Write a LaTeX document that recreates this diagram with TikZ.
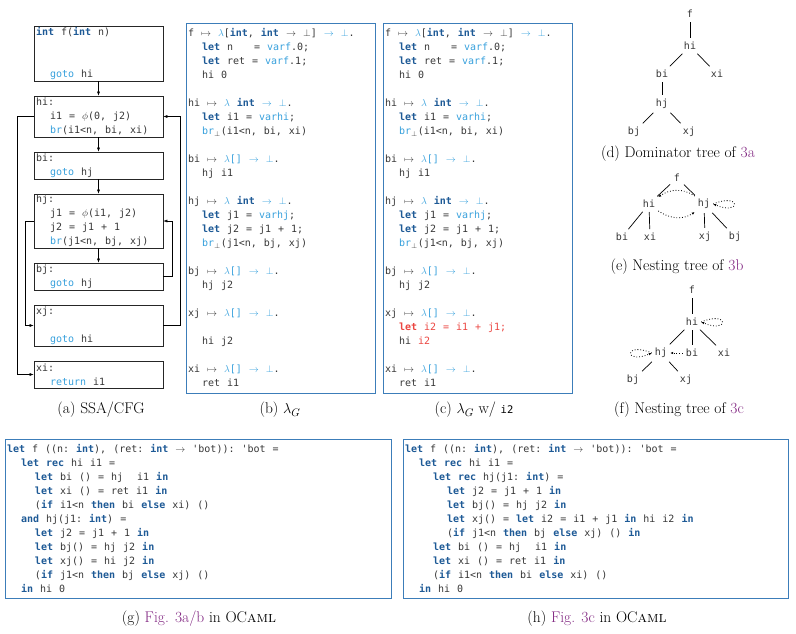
\documentclass[tikz,border=0pt]{standalone}
\usepackage{fontspec}
\newfontfamily\codefont{DejaVu Sans Mono}
\usetikzlibrary{arrows.meta}

\definecolor{kwblue}{RGB}{30,90,150}
\definecolor{ltblue}{RGB}{55,160,220}
\definecolor{frameblue}{RGB}{60,125,185}
\definecolor{codered}{RGB}{235,70,65}
\definecolor{refpurple}{RGB}{130,40,130}
\definecolor{codegray}{RGB}{55,55,55}

\newcommand\kw[1]{{\bfseries\color{kwblue}#1}}
\newcommand\lb[1]{{\color{ltblue}#1}}
\newcommand\rd[1]{{\color{codered}#1}}
\newcommand\pur[1]{{\color{refpurple}#1}}
\newcommand\ocaml{OC\textsc{aml}}
\newcommand\lamty{\lb{$\lambda$[] $\rightarrow$ $\bot$}.}
\newcommand\codesize{\codefont\fontsize{10}{14}\selectfont}
\newcommand\codespaces{\spaceskip=7pt\relax\xspaceskip=7pt\relax}

\tikzset{
  code/.style={font=\codesize, text=codegray, execute at begin node=\codespaces},
  cfgblock/.style={code, draw=black!85, line width=0.8pt, text width=125pt, align=flush left, inner xsep=2pt, inner ysep=0pt},
  listing/.style={code, draw=frameblue, line width=0.8pt, align=flush left, inner xsep=2pt, inner ysep=0pt},
  treenode/.style={code, inner sep=3pt},
  treeedge/.style={line width=0.7pt, shorten >=1pt, shorten <=1pt},
  nestedge/.style={dotted, line width=0.8pt, -{Latex[length=3pt,width=2.5pt]}},
  caption/.style={font=\fontsize{15.5}{17}\selectfont},
}

\begin{document}
\begin{tikzpicture}[x=1pt,y=-1pt,>={Latex[length=4pt,width=3pt]}]
\useasboundingbox (0,0) rectangle (796,633);

% (a) SSA/CFG
\node[cfgblock,minimum height=55pt] (f) at (98.5,53.5) {\kw{int} f(\kw{int} n)\\[28pt]~~\lb{goto} hi};
\node[cfgblock,minimum height=41pt] (hi) at (98.5,116.5) {hi:\\~~i1 = $\phi$(0, j2)\\~~\lb{br}(i1<n, bi, xi)};
\node[cfgblock,minimum height=27pt] (bi) at (98.5,165.5) {bi:\\~~\lb{goto} hj};
\node[cfgblock,minimum height=54pt] (hj) at (98.5,221) {hj:\\~~j1 = $\phi$(i1, j2)\\~~j2 = j1 + 1\\~~\lb{br}(j1<n, bj, xj)};
\node[cfgblock,minimum height=27pt] (bj) at (98.5,276.5) {bj:\\~~\lb{goto} hj};
\node[cfgblock,minimum height=41pt] (xj) at (98.5,325.5) {xj:\\[14pt]~~\lb{goto} hi};
\node[cfgblock,minimum height=27pt] (xi) at (98.5,374.5) {xi:\\~~\lb{return} i1};
\draw[->] (f) -- (hi);
\draw[->] (hi) -- (bi);
\draw[->] (bi) -- (hj);
\draw[->] (hj) -- (bj);
\draw[->] (hi.west) -- ++(-16,0) |- (xi.west);
\draw[->] (hj.west) -- ++(-8,0) |- (xj.west);
\draw[->] (bj.east) -- ++(9,0) |- (hj.east);
\draw[->] (xj.east) -- ++(17,0) |- (hi.east);
\node[caption] (capa) at (101,410) {(a) SSA/CFG};

% (b) lambda_G
\node[listing,text width=185pt,minimum height=370pt] (lamg) at (280.5,208) {%
f $\mapsto$ \lb{$\lambda$}[\kw{int}, \kw{int} $\rightarrow$ $\bot$] \lb{$\rightarrow$ $\bot$}.\\
~~\kw{let} n~~~= \lb{varf}.0;\\
~~\kw{let} ret = \lb{varf}.1;\\
~~hi 0\\[14pt]
hi $\mapsto$ \lb{$\lambda$} \kw{int} \lb{$\rightarrow$ $\bot$}.\\
~~\kw{let} i1 = \lb{varhi};\\
~~\lb{br}$_\bot$(i1<n, bi, xi)\\[14pt]
bi $\mapsto$ \lamty\\
~~hj i1\\[14pt]
hj $\mapsto$ \lb{$\lambda$} \kw{int} \lb{$\rightarrow$ $\bot$}.\\
~~\kw{let} j1 = \lb{varhj};\\
~~\kw{let} j2 = j1 + 1;\\
~~\lb{br}$_\bot$(j1<n, bj, xj)\\[14pt]
bj $\mapsto$ \lamty\\
~~hj j2\\[14pt]
xj $\mapsto$ \lamty\\[14pt]
~~hi j2\\[14pt]
xi $\mapsto$ \lamty\\
~~ret i1};
\node[caption] (capb) at (280,410) {(b) $\lambda_G$};

% (c) lambda_G with i2
\node[listing,text width=185pt,minimum height=370pt] (lamgi) at (477.5,208) {%
f $\mapsto$ \lb{$\lambda$}[\kw{int}, \kw{int} $\rightarrow$ $\bot$] \lb{$\rightarrow$ $\bot$}.\\
~~\kw{let} n~~~= \lb{varf}.0;\\
~~\kw{let} ret = \lb{varf}.1;\\
~~hi 0\\[14pt]
hi $\mapsto$ \lb{$\lambda$} \kw{int} \lb{$\rightarrow$ $\bot$}.\\
~~\kw{let} i1 = \lb{varhi};\\
~~\lb{br}$_\bot$(i1<n, bi, xi)\\[14pt]
bi $\mapsto$ \lamty\\
~~hj i1\\[14pt]
hj $\mapsto$ \lb{$\lambda$} \kw{int} \lb{$\rightarrow$ $\bot$}.\\
~~\kw{let} j1 = \lb{varhj};\\
~~\kw{let} j2 = j1 + 1;\\
~~\lb{br}$_\bot$(j1<n, bj, xj)\\[14pt]
bj $\mapsto$ \lamty\\
~~hj j2\\[14pt]
xj $\mapsto$ \lamty\\
~~\rd{\bfseries let} \rd{i2 = i1 + j1;}\\
~~hi \rd{i2}\\[14pt]
xi $\mapsto$ \lamty\\
~~ret i1};
\node[caption] (capc) at (474,410) {(c) $\lambda_G$ w/ {\codefont\fontsize{10.5}{12}\selectfont i2}};

% (d) dominator tree
\node[treenode] (d-f) at (690,14) {f};
\node[treenode] (d-hi) at (690,46) {hi};
\node[treenode] (d-bi) at (662,74) {bi};
\node[treenode] (d-xi) at (717,74) {xi};
\node[treenode] (d-hj) at (662,104) {hj};
\node[treenode] (d-bj) at (634,132) {bj};
\node[treenode] (d-xj) at (689,132) {xj};
\draw[treeedge] (d-f) -- (d-hi);
\draw[treeedge] (d-hi) -- (d-bi);
\draw[treeedge] (d-hi) -- (d-xi);
\draw[treeedge] (d-bi) -- (d-hj);
\draw[treeedge] (d-hj) -- (d-bj);
\draw[treeedge] (d-hj) -- (d-xj);
\node[caption] (capd) at (678,154) {(d) Dominator tree of \pur{3a}};

% (e) nesting tree of 3b
\node[treenode] (e-f) at (677,178) {f};
\node[treenode] (e-hi) at (649,204) {hi};
\node[treenode] (e-hj) at (704,204) {hj};
\node[treenode] (e-bi) at (622,237) {bi};
\node[treenode] (e-xi) at (650,237) {xi};
\node[treenode] (e-xj) at (705,237) {xj};
\node[treenode] (e-bj) at (735,237) {bj};
\draw[treeedge] (e-f) -- (e-hi);
\draw[treeedge] (e-f) -- (e-hj);
\draw[treeedge] (e-hi) -- (e-bi);
\draw[treeedge] (e-hi) -- (e-xi);
\draw[treeedge] (e-hj) -- (e-xj);
\draw[treeedge] (e-hj) -- (e-bj);
\draw[nestedge] (e-hj.north west) .. controls +(-12,-8) and +(12,-8) .. (e-hi.north east);
\draw[nestedge] (e-hi.south east) .. controls +(12,8) and +(-12,8) .. (e-hj.south west);
\draw[nestedge] (e-hj.east) .. controls +(28,-12) and +(28,12) .. (e-hj.east);
\node[caption] (cape) at (677,267) {(e) Nesting tree of \pur{3b}};

% (f) nesting tree of 3c
\node[treenode] (g-f) at (692,290) {f};
\node[treenode] (g-hi) at (692,322) {hi};
\node[treenode] (g-hj) at (661,353) {hj};
\node[treenode] (g-bi) at (692,353) {bi};
\node[treenode] (g-xi) at (724,353) {xi};
\node[treenode] (g-bj) at (633,380) {bj};
\node[treenode] (g-xj) at (686,380) {xj};
\draw[treeedge] (g-f) -- (g-hi);
\draw[treeedge] (g-hi) -- (g-hj);
\draw[treeedge] (g-hi) -- (g-bi);
\draw[treeedge] (g-hi) -- (g-xi);
\draw[treeedge] (g-hj) -- (g-bj);
\draw[treeedge] (g-hj) -- (g-xj);
\draw[nestedge] (g-bi) -- (g-hj);
\draw[nestedge] (g-hi.east) .. controls +(28,-12) and +(28,12) .. (g-hi.east);
\draw[nestedge] (g-hj.west) .. controls +(-28,-12) and +(-28,12) .. (g-hj.west);
\node[caption] (capf) at (679,410) {(f) Nesting tree of \pur{3c}};

% (g) OCaml of 3a/b
\node[listing,text width=382pt,minimum height=159pt] (mlab) at (198,518.5) {%
\kw{let} f ((n: \kw{int}), (ret: \kw{int} $\rightarrow$ 'bot)): 'bot =\\
~~\kw{let} \kw{rec} hi i1 =\\
~~~~\kw{let} bi () = hj~~i1 \kw{in}\\
~~~~\kw{let} xi () = ret i1 \kw{in}\\
~~~~(\kw{if} i1<n \kw{then} bi \kw{else} xi) ()\\
~~\kw{and} hj(j1: \kw{int}) =\\
~~~~\kw{let} j2 = j1 + 1 \kw{in}\\
~~~~\kw{let} bj() = hj j2 \kw{in}\\
~~~~\kw{let} xj() = hi j2 \kw{in}\\
~~~~(\kw{if} j1<n \kw{then} bj \kw{else} xj) ()\\
~~\kw{in} hi 0};
\node[caption] (capg) at (199,619) {(g) \pur{Fig. 3a/b} in \ocaml};

% (h) OCaml of 3c
\node[listing,text width=381pt,minimum height=159pt] (mlc) at (595.5,518.5) {%
\kw{let} f ((n: \kw{int}), (ret: \kw{int} $\rightarrow$ 'bot)): 'bot =\\
~~\kw{let} \kw{rec} hi i1 =\\
~~~~\kw{let} \kw{rec} hj(j1: \kw{int}) =\\
~~~~~~\kw{let} j2 = j1 + 1 \kw{in}\\
~~~~~~\kw{let} bj() = hj j2 \kw{in}\\
~~~~~~\kw{let} xj() = \kw{let} i2 = i1 + j1 \kw{in} hi i2 \kw{in}\\
~~~~~~(\kw{if} j1<n \kw{then} bj \kw{else} xj) () \kw{in}\\
~~~~\kw{let} bi () = hj~~i1 \kw{in}\\
~~~~\kw{let} xi () = ret i1 \kw{in}\\
~~~~(\kw{if} i1<n \kw{then} bi \kw{else} xi) ()\\
~~\kw{in} hi 0};
\node[caption] (caph) at (597,619) {(h) \pur{Fig. 3c} in \ocaml};
\end{tikzpicture}
\end{document}
